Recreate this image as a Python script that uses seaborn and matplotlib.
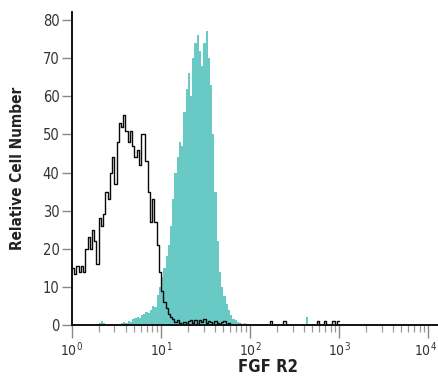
import numpy as np
import pandas as pd
import matplotlib
matplotlib.use("Agg")
import matplotlib.pyplot as plt
import matplotlib.transforms as mtransforms
import seaborn as sns
from matplotlib import font_manager
from matplotlib.ticker import LogLocator, NullFormatter

# bins: 1/40 decade, from 10^0
bin_step = 1 / 40
isotype_counts = [
    15, 13.5, 15.5, 14, 15.5, 14, 20, 23, 20, 25,
    22, 16, 28, 26, 29, 35, 33, 40, 44, 37,
    48, 53, 52, 55, 51, 48, 51, 47, 44, 46,
    42, 50, 50, 43, 35, 27, 33, 27, 21, 14,
    9, 6, 4.5, 3, 2, 1.5, 0.8, 1.2, 0.5, 0.3,
    0.8, 0.3, 1.0, 1.3, 0.5, 1.2, 0.3, 1.3, 0.8, 1.5,
    0.5, 1.0, 0.8, 0.3, 1.0, 0.5, 0.2, 0.8, 1.0, 0.3,
    0.5, 0, 0, 0, 0, 0.3, 0, 0.2, 0, 0,
    0, 0, 0, 0, 0, 0, 0, 0, 0, 1.0,
    0, 0, 0, 0, 0, 1.0, 0, 0, 0, 0,
    0, 0, 0, 0, 0, 0, 0, 0, 0, 0,
    1.0, 0, 0, 1.0, 0, 0, 0, 1.0, 0, 1.0,
]
fgfr2_counts = [
    0, 0, 0, 0, 0, 0, 0, 0, 0, 0,
    0, 0, 0.6, 1.0, 0.4, 0, 0, 0, 0, 0,
    0, 0, 0.6, 0.8, 0.5, 1.0, 0.8, 1.5, 1.8, 2.0,
    1.8, 2.5, 3.0, 3.5, 3.2, 4.0, 5.0, 4.6, 8, 10,
    12.5, 15, 18, 21, 26, 33, 40, 44, 48, 47,
    56, 62, 66, 60, 70, 74, 76, 72, 68, 74,
    77, 70, 63, 50, 35, 22, 14, 10, 7.5, 5.5,
    4, 2.5, 1.5, 1.2, 0.8, 0.5, 0.3, 0, 0, 0,
    0, 0, 0, 0, 0, 0, 0, 0, 0, 0,
    0, 0, 0, 0, 0, 0, 0, 0, 0, 0,
    0, 0, 0, 0, 0, 2.0, 0, 0, 0, 0,
    0, 0, 0, 0, 0, 0, 0, 0, 0, 0,
]
x_tick_exponents = [0, 1, 2, 3, 4]
y_ticks = [0, 10, 20, 30, 40, 50, 60, 70, 80]

n = len(isotype_counts)
centers = 10 ** ((np.arange(n) + 0.5) * bin_step)
df = pd.DataFrame({"x": centers, "iso": isotype_counts, "fgf": fgfr2_counts})

sns.set_style("white")
names = {f.name for f in font_manager.fontManager.ttflist}
if "Liberation Sans Narrow" in names:
    fam = ["Liberation Sans Narrow", "DejaVu Sans"]
else:
    fam = ["DejaVu Sans"]
plt.rcParams["font.family"] = fam
plt.rcParams["font.stretch"] = "condensed"
plt.rcParams["mathtext.fontset"] = "custom"
plt.rcParams["mathtext.rm"] = fam[0] + ":stretch=condensed"
plt.rcParams["mathtext.it"] = fam[0] + ":stretch=condensed"

fig = plt.figure(figsize=(4.38, 3.79), dpi=100)
ax = fig.add_axes([72 / 438, 54 / 379, 1 - 72 / 438, 313 / 379])

teal = "#68c9c5"
binrange = (0, n * bin_step - 1e-9)
sns.histplot(data=df, x="x", weights="fgf", binwidth=bin_step, binrange=binrange,
             log_scale=True, element="step", fill=True, color=teal, alpha=1,
             linewidth=0, ax=ax)
sns.histplot(data=df, x="x", weights="iso", binwidth=bin_step, binrange=binrange,
             log_scale=True, element="step", fill=False, color="#0a0a0a",
             linewidth=1.0, ax=ax)

ax.set_xscale("log")
ax.set_xlim(1, 10 ** 4.11)
ax.set_ylim(0, 82.1)
ax.set_yticks(y_ticks)
ax.set_xticks([10.0 ** e for e in x_tick_exponents])
ax.xaxis.set_minor_locator(LogLocator(base=10, subs=np.arange(2, 10)))
ax.xaxis.set_minor_formatter(NullFormatter())

for s in ["top", "right"]:
    ax.spines[s].set_visible(False)
for s in ["left", "bottom"]:
    ax.spines[s].set_color("#111111")
    ax.spines[s].set_linewidth(1.4)

ax.tick_params(axis="y", which="major", direction="out", length=7, width=1,
               color="#888888", labelsize=10.5, labelcolor="#333333", pad=2, left=True)
ax.tick_params(axis="x", which="major", direction="out", length=9, width=1,
               color="#888888", labelsize=10, labelcolor="#333333", pad=2, bottom=True)
ax.tick_params(axis="x", which="minor", direction="out", length=5, width=0.9,
               color="#999999", bottom=True)

ax.set_xlabel("FGF R2", fontsize=12, fontweight="bold", color="#222222")
ax.xaxis.set_label_coords(0.535, -0.107)
ax.set_ylabel("Relative Cell Number", fontsize=11, fontweight="bold", color="#222222", labelpad=13)

# keep the last x tick label inside the canvas
fig.canvas.draw()
last = ax.get_xticklabels()[-1]
last.set_transform(last.get_transform() +
                   mtransforms.ScaledTranslation(-3 / 100, 0, fig.dpi_scale_trans))

fig.savefig("out.png", dpi=100)
